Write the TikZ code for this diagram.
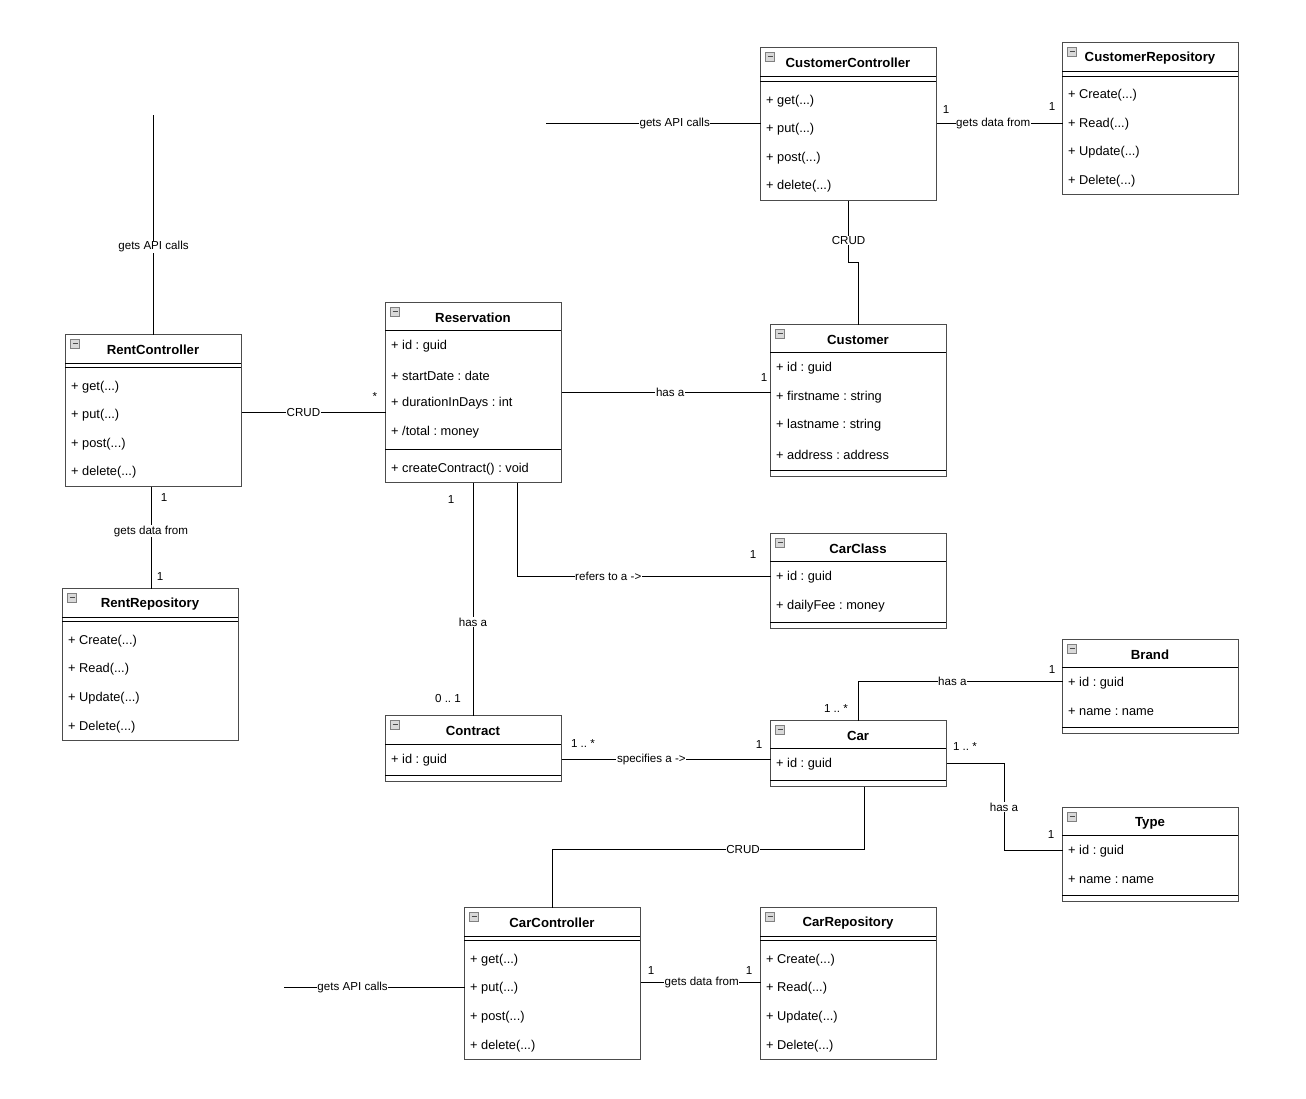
\documentclass[tikz,border=0pt]{standalone}
\usepackage{fontspec}
\setmainfont{Liberation Sans}
\usepackage{tikz}
\frenchspacing

\begin{document}
\begin{tikzpicture}[x=1pt, y=-1pt,
    classbox/.style={draw=black!70, line width=1pt, fill=white, anchor=north west,
                     minimum width=176pt, inner sep=0pt, outer sep=0pt,
                     xshift=0.5pt, yshift=-0.5pt},
    sepline/.style={black, line width=0.9pt},
    title/.style={font=\fontsize{13.2}{15}\selectfont\bfseries, inner sep=0pt, yshift=-1pt},
    member/.style={font=\fontsize{12.8}{15}\selectfont, anchor=west, inner sep=0pt, yshift=-1.5pt},
    icon/.style={draw=gray, fill=gray!30, inner sep=0pt, minimum size=9pt, text=black!70,
                 font=\fontsize{4}{4}\selectfont},
    conn/.style={black, line width=0.9pt},
    lbl/.style={fill=white, inner sep=0.6pt, font=\fontsize{11.6}{13}\selectfont},
    mult/.style={inner sep=0pt, font=\fontsize{11.6}{13}\selectfont}]
  \useasboundingbox (0,0) rectangle (1306,1098);

  %%% CustomerController
  \node[classbox, minimum height=153pt] (cc) at (760,47) {};
  \draw[sepline] (760,76) -- (936,76);
  \draw[sepline] (760,81) -- (936,81);
  \node[icon] at (770,57) {\rule[1pt]{5pt}{1.1pt}};
  \node[title] at (848,62) {CustomerController};
  \node[member] at (766,100) {+ get(...)};
  \node[member] at (766,128) {+ put(...)};
  \node[member] at (766,157) {+ post(...)};
  \node[member] at (766,185) {+ delete(...)};

  %%% CustomerRepository
  \node[classbox, minimum height=152pt] (cr) at (1062,42) {};
  \draw[sepline] (1062,71) -- (1238,71);
  \draw[sepline] (1062,76) -- (1238,76);
  \node[icon] at (1072,52) {\rule[1pt]{5pt}{1.1pt}};
  \node[title] at (1150,57) {CustomerRepository};
  \node[member] at (1068,94)  {+ Create(...)};
  \node[member] at (1068,123) {+ Read(...)};
  \node[member] at (1068,151) {+ Update(...)};
  \node[member] at (1068,180) {+ Delete(...)};

  %%% RentController
  \node[classbox, minimum height=152pt] (rc) at (65,334) {};
  \draw[sepline] (65,363) -- (241,363);
  \draw[sepline] (65,367) -- (241,367);
  \node[icon] at (75,344) {\rule[1pt]{5pt}{1.1pt}};
  \node[title] at (153,349) {RentController};
  \node[member] at (71,386) {+ get(...)};
  \node[member] at (71,414) {+ put(...)};
  \node[member] at (71,443) {+ post(...)};
  \node[member] at (71,471) {+ delete(...)};

  %%% RentRepository
  \node[classbox, minimum height=152pt] (rr) at (62,588) {};
  \draw[sepline] (62,617) -- (238,617);
  \draw[sepline] (62,621) -- (238,621);
  \node[icon] at (72,598) {\rule[1pt]{5pt}{1.1pt}};
  \node[title] at (150,603) {RentRepository};
  \node[member] at (68,640) {+ Create(...)};
  \node[member] at (68,668) {+ Read(...)};
  \node[member] at (68,697) {+ Update(...)};
  \node[member] at (68,726) {+ Delete(...)};

  %%% Reservation
  \node[classbox, minimum height=180pt] (res) at (385,302) {};
  \draw[sepline] (385,330) -- (561,330);
  \draw[sepline] (385,449) -- (561,449);
  \node[icon] at (395,312) {\rule[1pt]{5pt}{1.1pt}};
  \node[title] at (473,317) {Reservation};
  \node[member] at (391,345) {+ id : guid};
  \node[member] at (391,374) {+ startDate : date};
  \node[member] at (391,402) {+ durationInDays : int};
  \node[member] at (391,431) {+ /total : money};
  \node[member] at (391,468) {+ createContract() : void};

  %%% Customer
  \node[classbox, minimum height=152pt] (cust) at (770,324) {};
  \draw[sepline] (770,352) -- (946,352);
  \draw[sepline] (770,470) -- (946,470);
  \node[icon] at (780,334) {\rule[1pt]{5pt}{1.1pt}};
  \node[title] at (858,339) {Customer};
  \node[member] at (776,367) {+ id : guid};
  \node[member] at (776,396) {+ firstname : string};
  \node[member] at (776,424) {+ lastname : string};
  \node[member] at (776,453) {+ address : address};

  %%% CarClass
  \node[classbox, minimum height=95pt] (cls) at (770,533) {};
  \draw[sepline] (770,561) -- (946,561);
  \draw[sepline] (770,622) -- (946,622);
  \node[icon] at (780,543) {\rule[1pt]{5pt}{1.1pt}};
  \node[title] at (858,548) {CarClass};
  \node[member] at (776,576) {+ id : guid};
  \node[member] at (776,605) {+ dailyFee : money};

  %%% Brand
  \node[classbox, minimum height=94pt] (brand) at (1062,639) {};
  \draw[sepline] (1062,667) -- (1238,667);
  \draw[sepline] (1062,727) -- (1238,727);
  \node[icon] at (1072,649) {\rule[1pt]{5pt}{1.1pt}};
  \node[title] at (1150,654) {Brand};
  \node[member] at (1068,682) {+ id : guid};
  \node[member] at (1068,710) {+ name : name};

  %%% Contract
  \node[classbox, minimum height=66pt] (contract) at (385,715) {};
  \draw[sepline] (385,744) -- (561,744);
  \draw[sepline] (385,775) -- (561,775);
  \node[icon] at (395,725) {\rule[1pt]{5pt}{1.1pt}};
  \node[title] at (473,730) {Contract};
  \node[member] at (391,759) {+ id : guid};

  %%% Car
  \node[classbox, minimum height=66pt] (car) at (770,720) {};
  \draw[sepline] (770,748) -- (946,748);
  \draw[sepline] (770,780) -- (946,780);
  \node[icon] at (780,730) {\rule[1pt]{5pt}{1.1pt}};
  \node[title] at (858,735) {Car};
  \node[member] at (776,763) {+ id : guid};

  %%% Type
  \node[classbox, minimum height=94pt] (type) at (1062,807) {};
  \draw[sepline] (1062,835) -- (1238,835);
  \draw[sepline] (1062,895) -- (1238,895);
  \node[icon] at (1072,817) {\rule[1pt]{5pt}{1.1pt}};
  \node[title] at (1150,822) {Type};
  \node[member] at (1068,850) {+ id : guid};
  \node[member] at (1068,878) {+ name : name};

  %%% CarController
  \node[classbox, minimum height=152pt] (carc) at (464,907) {};
  \draw[sepline] (464,936) -- (640,936);
  \draw[sepline] (464,940) -- (640,940);
  \node[icon] at (474,917) {\rule[1pt]{5pt}{1.1pt}};
  \node[title] at (552,922) {CarController};
  \node[member] at (470,959)  {+ get(...)};
  \node[member] at (470,987)  {+ put(...)};
  \node[member] at (470,1016) {+ post(...)};
  \node[member] at (470,1045) {+ delete(...)};

  %%% CarRepository
  \node[classbox, minimum height=152pt] (carr) at (760,907) {};
  \draw[sepline] (760,936) -- (936,936);
  \draw[sepline] (760,940) -- (936,940);
  \node[icon] at (770,917) {\rule[1pt]{5pt}{1.1pt}};
  \node[title] at (848,922) {CarRepository};
  \node[member] at (766,959)  {+ Create(...)};
  \node[member] at (766,987)  {+ Read(...)};
  \node[member] at (766,1016) {+ Update(...)};
  \node[member] at (766,1045) {+ Delete(...)};

  %%% connectors
  \coordinate (api1) at (546,123);
  \coordinate (api2) at (rc.north |- 0,115);
  \coordinate (api3) at (284,987);

  \draw[conn] (api1) -- (cc.west |- api1) node[lbl, pos=0.6] {gets API calls};
  \draw[conn] (cc.east |- 0,123) -- (cr.west |- 0,123) node[lbl, pos=0.45] {gets data from};
  \node[mult] at (946,110) {1};
  \node[mult] at (1052,107) {1};

  \draw[conn] (cc.south) -- node[lbl, pos=0.65] {CRUD} (cc.south |- 0,262) -| (cust.north);

  \draw[conn] (api2) -- (rc.north) node[lbl, pos=0.6] {gets API calls};
  \draw[conn] (rc.east |- 0,412) -- (res.west |- 0,412) node[lbl, pos=0.43] {CRUD};
  \node[mult] at (375,397) {*};

  \draw[conn] (rc.south -| 151,0) -- (rr.north -| 151,0) node[lbl, pos=0.44] {gets data from};
  \node[mult] at (164,498) {1};
  \node[mult] at (160,576) {1};

  \draw[conn] (res.east |- 0,392) -- (cust.west |- 0,392) node[lbl, pos=0.52] {has a};
  \node[mult] at (764,378) {1};

  \draw[conn] (res.south -| 517,0) |- (cls.west |- 0,576) node[lbl, pos=0.68] {refers to a ->};
  \node[mult] at (753,554) {1};

  \draw[conn] (res.south -| 473,0) -- (contract.north -| 473,0) node[lbl, pos=0.6] {has a};
  \node[mult] at (451,500) {1};
  \node[mult] at (448,698) {0 .. 1};

  \draw[conn] (contract.east |- 0,759) -- (car.west |- 0,759) node[lbl, pos=0.43] {specifies a ->};
  \node[mult] at (583,743) {1 .. *};
  \node[mult] at (759,744) {1};

  \draw[conn] (car.north) |- (brand.west |- 0,681) node[lbl, pos=0.73] {has a};
  \node[mult] at (836,708) {1 .. *};
  \node[mult] at (1052,669) {1};

  \draw[conn] (car.east |- 0,763) -| (1004,807) node[lbl] {has a} |- (type.west |- 0,850);
  \node[mult] at (965,746) {1 .. *};
  \node[mult] at (1051,834) {1};

  \draw[conn] (car.south -| 864,0) |- (743,849) node[lbl] {CRUD} -| (carc.north);

  \draw[conn] (api3) -- (carc.west |- api3) node[lbl, pos=0.38] {gets API calls};
  \draw[conn] (carc.east |- 0,982) -- (carr.west |- 0,982) node[lbl, pos=0.51] {gets data from};
  \node[mult] at (651,970) {1};
  \node[mult] at (749,970) {1};
\end{tikzpicture}
\end{document}
